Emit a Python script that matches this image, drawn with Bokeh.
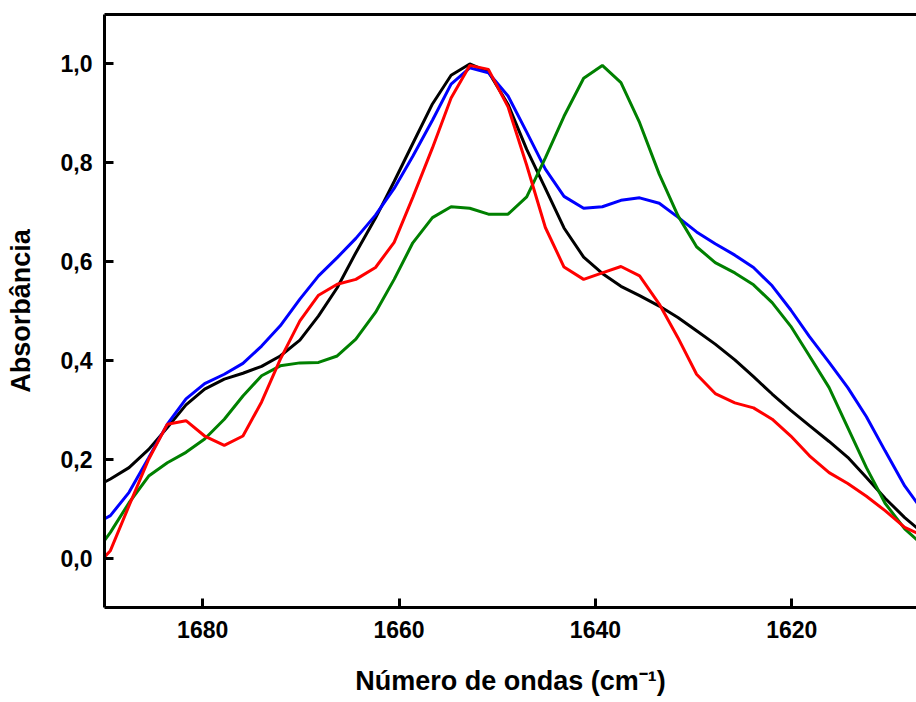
from bokeh.plotting import figure
from bokeh.models import Range1d, FixedTicker, LinearAxis, CustomJSTickFormatter
from bokeh.embed import file_html
from bokeh.resources import INLINE

# Wavenumbers (cm-1)
wavenumber = [1691.3, 1689.4, 1687.5, 1685.5, 1683.6, 1681.7, 1679.8, 1677.8, 1675.9,
              1674.0, 1672.1, 1670.1, 1668.2, 1666.3, 1664.4, 1662.4, 1660.5, 1658.6,
              1656.6, 1654.7, 1652.8, 1650.9, 1648.9, 1647.0, 1645.1, 1643.2, 1641.2,
              1639.3, 1637.4, 1635.5, 1633.5, 1631.6, 1629.7, 1627.8, 1625.8, 1623.9,
              1622.0, 1620.1, 1618.2, 1616.2, 1614.3, 1612.4, 1610.5, 1608.5, 1606.6]

black_abs = [0.140, 0.160, 0.183, 0.220, 0.264, 0.310, 0.342, 0.362, 0.374,
             0.388, 0.409, 0.441, 0.490, 0.547, 0.618, 0.688, 0.762, 0.839,
             0.919, 0.977, 1.000, 0.984, 0.918, 0.827, 0.748, 0.668, 0.609,
             0.576, 0.550, 0.531, 0.510, 0.487, 0.460, 0.433, 0.401, 0.367,
             0.332, 0.299, 0.268, 0.236, 0.204, 0.163, 0.121, 0.082, 0.050]

blue_abs = [0.065, 0.086, 0.133, 0.203, 0.271, 0.322, 0.353, 0.372, 0.394,
            0.429, 0.470, 0.524, 0.571, 0.608, 0.647, 0.694, 0.748, 0.813,
            0.886, 0.959, 0.992, 0.982, 0.935, 0.862, 0.787, 0.732, 0.708,
            0.711, 0.724, 0.729, 0.718, 0.690, 0.660, 0.636, 0.613, 0.588,
            0.551, 0.502, 0.448, 0.396, 0.345, 0.286, 0.217, 0.146, 0.094]

green_abs = [0.000, 0.052, 0.112, 0.166, 0.193, 0.214, 0.241, 0.281, 0.328,
             0.369, 0.389, 0.395, 0.396, 0.409, 0.443, 0.497, 0.564, 0.638,
             0.689, 0.711, 0.708, 0.696, 0.696, 0.731, 0.810, 0.894, 0.971,
             0.997, 0.962, 0.881, 0.777, 0.693, 0.630, 0.598, 0.577, 0.553,
             0.517, 0.469, 0.409, 0.345, 0.264, 0.183, 0.111, 0.059, 0.025]

red_abs = [-0.025, 0.015, 0.106, 0.200, 0.271, 0.278, 0.247, 0.228, 0.247,
           0.316, 0.402, 0.480, 0.532, 0.554, 0.564, 0.588, 0.639, 0.730,
           0.830, 0.931, 0.997, 0.989, 0.913, 0.795, 0.669, 0.589, 0.564,
           0.577, 0.590, 0.571, 0.514, 0.446, 0.372, 0.333, 0.314, 0.304,
           0.281, 0.247, 0.207, 0.173, 0.151, 0.125, 0.096, 0.062, 0.045]

x_ticks = [1680, 1660, 1640, 1620]
y_ticks = [0.0, 0.2, 0.4, 0.6, 0.8, 1.0]

FONT = "Liberation Sans"

p = figure(width=916, height=702,
           x_range=Range1d(1690, 1607.3), y_range=Range1d(-0.1, 1.1),
           output_backend="svg", toolbar_location=None,
           min_border_left=104, min_border_right=0,
           min_border_top=14, min_border_bottom=95,
           x_axis_label="Número de ondas (cm⁻¹)", y_axis_label="Absorbância")

p.outline_line_color = None
p.xgrid.visible = False
p.ygrid.visible = False
p.background_fill_color = "white"
p.border_fill_color = "white"

for series, color in [(black_abs, "black"), (blue_abs, "#0000ff"),
                      (green_abs, "#008000"), (red_abs, "#ff0000")]:
    p.line(wavenumber, series, line_color=color, line_width=3)

p.xaxis.ticker = FixedTicker(ticks=x_ticks)
p.yaxis.ticker = FixedTicker(ticks=y_ticks)
p.yaxis.formatter = CustomJSTickFormatter(code="return tick.toFixed(1).replace('.', ',');")

for ax in [p.xaxis[0], p.yaxis[0]]:
    ax.axis_line_width = 3
    ax.axis_line_color = "black"
    ax.major_tick_in = 9
    ax.major_tick_out = 0
    ax.major_tick_line_width = 3
    ax.minor_tick_in = 0
    ax.minor_tick_out = 0
    ax.major_label_text_font = FONT
    ax.major_label_text_font_style = "bold"
    ax.major_label_text_font_size = "23px"
    ax.major_label_text_color = "black"
    ax.axis_label_text_font = FONT
    ax.axis_label_text_font_style = "bold"
    ax.axis_label_text_font_size = "27px"
    ax.axis_label_text_color = "black"

p.xaxis.major_label_standoff = 13
p.xaxis.axis_label_standoff = 25
p.yaxis.major_label_standoff = 12
p.yaxis.axis_label_standoff = 22

top = LinearAxis(ticker=FixedTicker(ticks=[]), axis_line_width=3,
                 major_tick_in=0, major_tick_out=0, minor_tick_in=0, minor_tick_out=0,
                 major_label_text_font_size="0px")
p.add_layout(top, "above")

open("out.html", "w").write(file_html(p, INLINE))
